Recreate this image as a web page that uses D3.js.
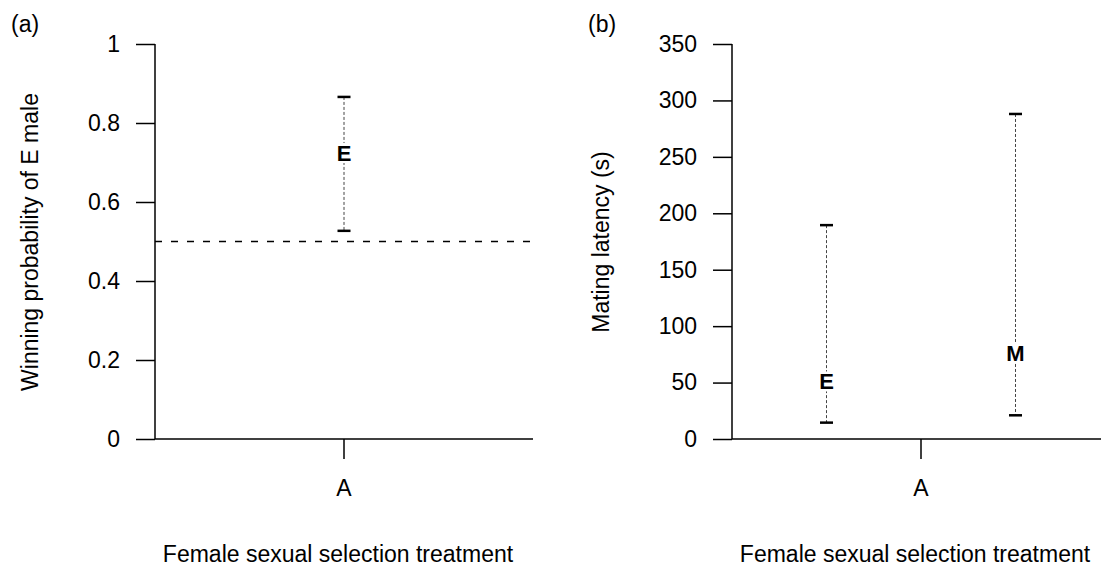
<!DOCTYPE html>
<html><head><meta charset="utf-8">
<script src="https://cdn.jsdelivr.net/npm/d3@7"></script>
<style>body{margin:0;background:#fff;} svg{display:block;} text{font-family:"Liberation Sans",Arial,Helvetica,sans-serif;fill:#000;}</style>
</head><body>
<script>
// Panel (a)
const aGroups = ["E"];
const aMean = [0.724];
const aLower = [0.527];
const aUpper = [0.866];
const aTicks = [0, 0.2, 0.4, 0.6, 0.8, 1];
const aRef = 0.5;
// Panel (b)
const bGroups = ["E", "M"];
const bMean = [51, 76];
const bLower = [14.5, 21];
const bUpper = [189.5, 288];
const bTicks = [0, 50, 100, 150, 200, 250, 300, 350];
const xCats = ["A"];

const W = 1101, H = 568;
const svg = d3.select("body").append("svg").attr("width", W).attr("height", H);
const FS = 23;

function panel(opt) {
  const g = svg.append("g");
  const y = d3.scaleLinear().domain(opt.domain).range([439, 44]);
  const x = d3.scaleBand().domain(xCats).range([opt.left, opt.left + 378]);
  const cx = x("A") + x.bandwidth() / 2;
  const off = d3.scalePoint().domain(opt.groups).range(opt.groups.length > 1 ? [-94.5, 94.5] : [0, 0]);

  const yAx = d3.axisLeft(y).tickValues(opt.ticks).tickSize(19).tickPadding(16).tickFormat(opt.fmt);
  const ya = g.append("g").attr("transform", `translate(${opt.left},0)`).call(yAx);
  ya.select(".domain").attr("d", `M0,${y(opt.domain[0])}V${y(opt.domain[1])}`);
  const xAx = d3.axisBottom(x).tickSize(20).tickPadding(21);
  const xa = g.append("g").attr("transform", `translate(0,439)`).call(xAx);
  xa.select(".domain").attr("d", `M${opt.left},0H${opt.left + 378}`);
  [ya, xa].forEach(a => {
    a.selectAll("path,line").attr("stroke", "#000").attr("stroke-width", 1.5);
    a.selectAll("text").style("font-size", FS + "px").attr("fill", "#000");
  });

  if (opt.ref != null) {
    g.append("line").attr("x1", opt.left).attr("x2", opt.left + 378)
      .attr("y1", y(opt.ref)).attr("y2", y(opt.ref))
      .attr("stroke", "#000").attr("stroke-width", 1.5).attr("stroke-dasharray", "7,9");
  }

  opt.groups.forEach((gr, i) => {
    const px = cx + off(gr);
    g.append("line").attr("x1", px).attr("x2", px).attr("y1", y(opt.upper[i])).attr("y2", y(opt.lower[i]))
      .attr("stroke", "#444").attr("stroke-width", 1).attr("stroke-dasharray", "3,2");
    [opt.upper[i], opt.lower[i]].forEach(v => {
      g.append("line").attr("x1", px - 6.5).attr("x2", px + 6.5).attr("y1", y(v)).attr("y2", y(v))
        .attr("stroke", "#000").attr("stroke-width", 2.5);
    });
    g.append("rect").attr("x", px - 9).attr("y", y(opt.mean[i]) - 10).attr("width", 18).attr("height", 20).attr("fill", "#fff");
    g.append("text").attr("x", px).attr("y", y(opt.mean[i])).attr("dy", "0.36em")
      .attr("text-anchor", "middle").style("font-size", "22px").style("font-weight", "bold").text(gr);
  });

  g.append("text").attr("transform", `translate(${opt.ytx},242) rotate(-90)`).attr("text-anchor", "middle")
    .style("font-size", FS + "px").text(opt.ytitle);
  g.append("text").attr("x", cx - 6).attr("y", 562).attr("text-anchor", "middle")
    .style("font-size", FS + "px").text("Female sexual selection treatment");
  g.append("text").attr("x", opt.left - 144).attr("y", 32).style("font-size", FS + "px").text(opt.tag);
}

panel({left: 155, domain: [0, 1], ticks: aTicks, fmt: d => d3.format("")(d), groups: aGroups, mean: aMean,
  lower: aLower, upper: aUpper, ref: aRef, ytitle: "Winning probability of E male", ytx: 38, tag: "(a)"});
panel({left: 732, domain: [0, 350], ticks: bTicks, fmt: d => d, groups: bGroups, mean: bMean,
  lower: bLower, upper: bUpper, ref: null, ytitle: "Mating latency (s)", ytx: 609, tag: "(b)"});
</script>
</body></html>
